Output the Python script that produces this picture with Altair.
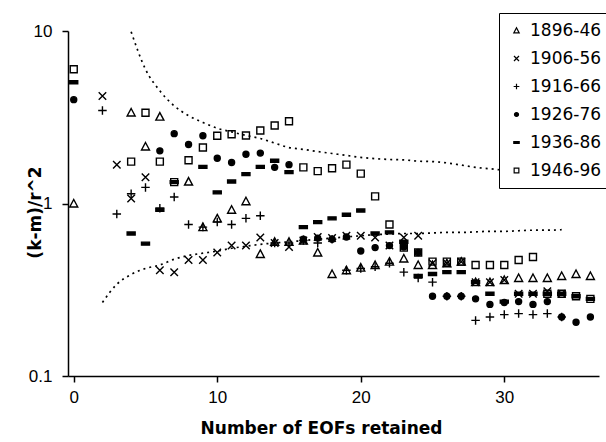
import altair as alt
import pandas as pd

N = None
eofs = list(range(37))
periods = ["1896-46", "1906-56", "1916-66", "1926-76", "1936-86", "1946-96"]

s1896 = [1.0, N, N, N, 3.37, 2.14, 3.19, N, 1.34, 0.73, 0.82, 0.92, 1.03, 0.51, 0.6, 0.6, 0.61,
         0.52, 0.39, 0.41, 0.425, 0.44, 0.46, 0.48, 0.44, 0.44, 0.45, 0.46, 0.35, 0.35, 0.36,
         0.37, 0.37, 0.37, 0.38, 0.39, 0.38]
s1906 = [N, N, 4.2, 1.68, 1.07, 1.42, 0.41, 0.40, 0.47, 0.47, 0.52, 0.57, 0.57, 0.635, 0.59, 0.56,
         0.61, 0.64, 0.63, 0.65, 0.65, 0.635, 0.57, 0.635, 0.65, 0.45, 0.45, 0.46, 0.35, 0.35, 0.36,
         0.30, 0.30, 0.31, 0.30, N, N]
s1916 = [N, N, 3.46, 0.87, 1.14, 1.24, 0.94, 1.09, 0.755, 0.73, 0.78, 0.755, 0.82, 0.85, 0.59, 0.59,
         0.61, 0.59, 0.62, 0.41, 0.42, 0.43, 0.45, 0.40, 0.37, 0.35, 0.29, 0.29, 0.21, 0.22, 0.227,
         0.23, 0.227, 0.23, 0.22, N, N]
s1926 = [4.0, N, N, N, N, N, 2.02, 2.54, 2.2, 2.47, 1.83, 1.73, 1.93, 1.96, 1.62, 1.68, 0.62, 0.63,
         0.62, 0.64, 0.53, 0.555, 0.57, 0.56, 0.52, 0.29, 0.29, 0.29, 0.28, 0.26, 0.267, 0.27, 0.26,
         0.27, 0.22, 0.205, 0.22]
s1936 = [5.05, N, N, N, 0.67, 0.585, 0.92, 1.33, N, 1.63, 1.16, 1.34, 1.48, 1.63, 1.77, 1.52, 0.73,
         0.78, 0.82, 0.86, 0.91, 0.67, 0.68, 0.6, 0.38, 0.39, 0.40, 0.40, 0.35, 0.30, 0.27, 0.30,
         0.30, 0.30, 0.30, 0.29, 0.28]
s1946 = [6.0, N, N, N, 1.75, 3.36, 1.75, 1.33, 1.78, 2.11, 2.47, 2.52, 2.48, 2.65, 2.83, 3.0, 1.62,
         1.54, 1.60, 1.68, 1.49, 1.10, 0.755, 0.555, 0.52, 0.46, 0.46, 0.46, 0.44, 0.44, 0.44, 0.47,
         0.49, 0.30, 0.30, 0.29, 0.28]

upper_x = list(range(4, 35))
upper_y = [9.9, 6.0, 4.5, 3.68, 3.23, 2.95, 2.73, 2.6, 2.48, 2.38, 2.24, 2.11, 2.06, 2.0, 1.95, 1.9,
           1.85, 1.82, 1.80, 1.79, 1.76, 1.75, 1.72, 1.67, 1.62, 1.59, 1.56, 1.54, 1.52, 1.5, 1.49]
lower_x = list(range(2, 35))
lower_y = [0.267, 0.34, 0.388, 0.42, 0.44, 0.475, 0.50, 0.515, 0.53, 0.55, 0.565, 0.58, 0.59, 0.60,
           0.61, 0.62, 0.63, 0.64, 0.65, 0.66, 0.665, 0.67, 0.67, 0.675, 0.68, 0.68, 0.685, 0.69,
           0.69, 0.695, 0.70, 0.70, 0.705]

rows = []
for name, vals in zip(periods, [s1896, s1906, s1916, s1926, s1936, s1946]):
    for x, v in zip(eofs, vals):
        if v is not None:
            rows.append({"eofs": x, "ratio": v, "period": name})
pts = pd.DataFrame(rows)

crows = []
for x, v in zip(upper_x, upper_y):
    crows.append({"eofs": x, "ratio": v, "curve": "upper"})
for x, v in zip(lower_x, lower_y):
    crows.append({"eofs": x, "ratio": v, "curve": "lower"})
curves = pd.DataFrame(crows)

shape_paths = [
    "M0,-0.8L0.8,0.7L-0.8,0.7Z",
    "M-0.75,-0.75L0.75,0.75M-0.75,0.75L0.75,-0.75",
    "M-0.85,0L0.85,0M0,-0.85L0,0.85",
    "M-0.6,0A0.6,0.6 0 1,0 0.6,0A0.6,0.6 0 1,0 -0.6,0Z",
    "M-0.8,-0.3H0.8V0.3H-0.8Z",
    "M-0.7,-0.7H0.7V0.7H-0.7Z",
]
fills = ["transparent", "transparent", "transparent", "black", "black", "transparent"]
strokes = ["black"] * 6

tick_font = "Liberation Sans Narrow, Liberation Sans, Arial, sans-serif"
title_font = "DejaVu Sans"

xscale = alt.Scale(domain=[-0.4, 36.6], nice=False, zero=False)
yscale = alt.Scale(type="log", domain=[0.1, 10], nice=False)

xaxis = alt.Axis(values=[0, 10, 20, 30], title="Number of EOFs retained", grid=False,
                 tickSize=6, tickWidth=1.5, tickColor="black", domainColor="black", domainWidth=1.5,
                 labelPadding=7, labelFont=tick_font, labelFontSize=17, labelColor="black",
                 titleFont=title_font, titleFontSize=17, titleFontWeight="bold", titleColor="black",
                 titleX=253, titleY=52, titleBaseline="middle", titleAlign="center")
yaxis = alt.Axis(values=[0.1, 1, 10], format="~g", title="(k-m)/r^2", grid=False,
                 tickSize=6, tickWidth=1.5, tickColor="black", domainColor="black", domainWidth=1.5,
                 labelPadding=10, labelFont=tick_font, labelFontSize=17, labelColor="black",
                 titleFont=title_font, titleFontSize=17, titleFontWeight="bold", titleColor="black",
                 titleX=-33, titleY=181, titleAngle=-90, titleBaseline="middle", titleAlign="center")

leg = alt.Legend(orient="none", legendX=431, legendY=-18, title=None, padding=9, rowPadding=10,
                 labelFont=title_font, labelFontSize=17, labelColor="black", labelOffset=5,
                 strokeColor="black", fillColor="white", symbolStrokeColor="black",
                 symbolStrokeWidth=1.2, symbolSize=45)

lines = alt.Chart(curves).mark_line(color="black", strokeDash=[2, 4], strokeWidth=1.7,
                                    interpolate="monotone").encode(
    x=alt.X("eofs:Q", scale=xscale, axis=xaxis),
    y=alt.Y("ratio:Q", scale=yscale, axis=yaxis),
    detail="curve:N",
)

points = alt.Chart(pts).mark_point(filled=False, size=100, strokeWidth=1.4,
                                   opacity=1).encode(
    x=alt.X("eofs:Q", scale=xscale, axis=xaxis),
    y=alt.Y("ratio:Q", scale=yscale, axis=yaxis),
    shape=alt.Shape("period:N", scale=alt.Scale(domain=periods, range=shape_paths), legend=leg),
    fill=alt.Fill("period:N", scale=alt.Scale(domain=periods, range=fills), legend=leg),
    stroke=alt.Stroke("period:N", scale=alt.Scale(domain=periods, range=strokes), legend=leg),
)

chart = alt.layer(lines, points).properties(
    width=531, height=345,
    padding={"left": 68, "top": 31, "right": 7, "bottom": 66},
    autosize=alt.AutoSizeParams(type="none"),
    background="white",
).configure_view(stroke=None)

chart.save("out.html", embed_options={"renderer": "svg", "actions": False})
